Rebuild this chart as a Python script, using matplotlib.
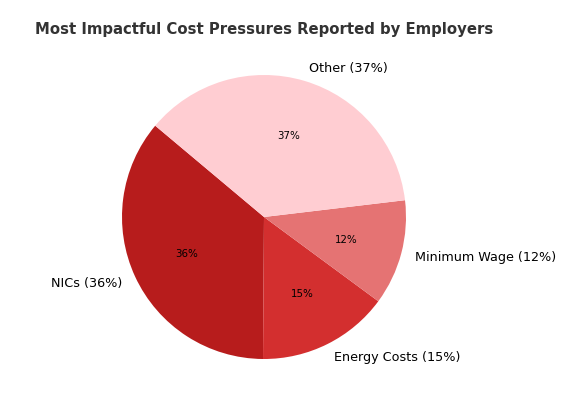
import matplotlib
matplotlib.use("Agg")
import matplotlib.pyplot as plt

categories = ["NICs", "Energy Costs", "Minimum Wage", "Other"]
values = [36, 15, 12, 37]
colors = ["#B71C1C", "#D32F2F", "#E57373", "#FFCDD2"]
labels = [f"{c} ({v}%)" for c, v in zip(categories, values)]

W, H = 561, 402
fig = plt.figure(figsize=(W / 100, H / 100), dpi=100)
side = 355
ax = fig.add_axes([(264 - side / 2) / W, 6.5 / H, side / W, side / H])
wedges, texts, autotexts = ax.pie(values, labels=labels, colors=colors, startangle=140,
                                  autopct="%1.0f%%", textprops={"fontsize": 9.2})
for t in autotexts:
    t.set_fontsize(7.4)
    t.set_color("black")
ax.set_aspect("equal")
ax.set_title("Most Impactful Cost Pressures Reported by Employers", fontsize=10.7,
             fontweight="bold", color="#333333", pad=5)
fig.savefig("out.png", dpi=100)
